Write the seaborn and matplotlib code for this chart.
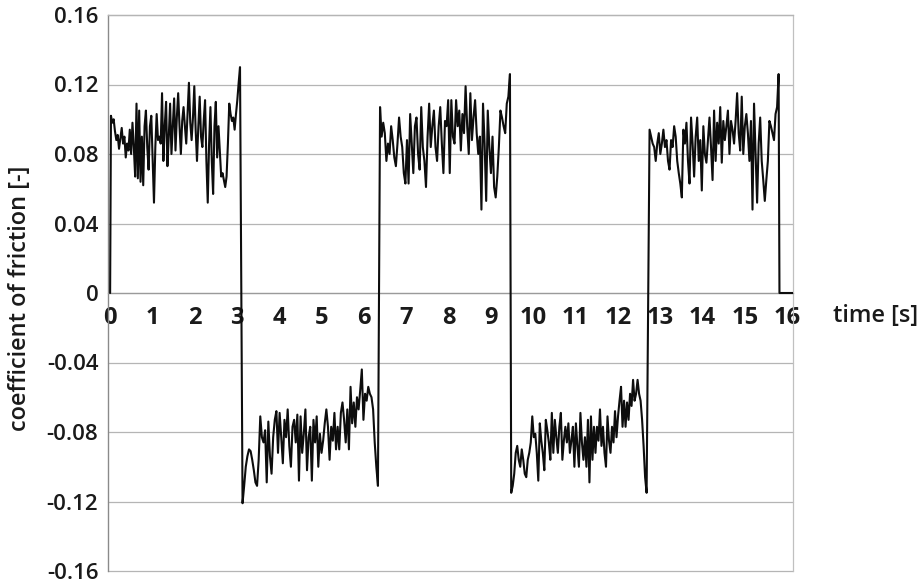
import numpy as np
import pandas as pd
import matplotlib
matplotlib.use("Agg")
import matplotlib.pyplot as plt
import seaborn as sns

# ---- data (friction coefficient, values in units of 1e-3) ----
start_time = [0.0]
start_value = [0]

seg1_range = (0.02, 3.07)
seg1 = [102, 98, 100, 93, 88, 91, 83, 89, 95, 86, 90, 78, 86, 82, 94, 80, 98, 84, 67, 109,
        66, 105, 64, 90, 62, 96, 105, 84, 71, 96, 102, 76, 52, 84, 103, 88, 90, 86, 115, 76,
        96, 110, 73, 90, 109, 80, 96, 112, 82, 101, 115, 96, 80, 99, 107, 96, 86, 103, 121, 98,
        88, 101, 119, 94, 76, 96, 113, 90, 84, 99, 111, 76, 52, 86, 107, 76, 57, 96, 110, 78,
        96, 82, 67, 69, 65, 61, 67, 86, 109, 103, 99, 101, 94, 103, 111, 121, 130]

seg2_range = (3.13, 6.33)
seg2 = [-121, -111, -100, -94, -90, -91, -96, -102, -109, -111, -96, -71, -83, -86, -79, -109,
        -74, -94, -104, -83, -73, -68, -92, -69, -83, -98, -73, -83, -67, -88, -100, -77, -73,
        -86, -70, -108, -71, -92, -81, -67, -102, -83, -77, -108, -73, -86, -71, -100, -81, -92,
        -85, -75, -67, -77, -96, -77, -85, -69, -90, -77, -90, -69, -63, -73, -86, -67, -90,
        -54, -75, -63, -77, -60, -67, -56, -44, -73, -58, -62, -54, -58, -60, -67, -86, -100, -111]

seg3_range = (6.38, 9.45)
seg3 = [107, 90, 98, 92, 76, 86, 80, 96, 88, 78, 73, 86, 101, 90, 84, 69, 63, 88, 63, 103,
        86, 69, 96, 101, 80, 71, 107, 84, 76, 61, 90, 109, 84, 96, 105, 84, 76, 96, 107, 86,
        69, 99, 96, 111, 69, 111, 90, 86, 111, 96, 105, 82, 103, 92, 119, 96, 80, 115, 88, 101,
        111, 92, 80, 90, 48, 109, 86, 53, 105, 84, 69, 90, 61, 55, 67, 84, 105, 101, 96, 92,
        109, 113, 126]

seg4_range = (9.48, 12.68)
seg4 = [-115, -111, -104, -92, -88, -96, -100, -90, -96, -104, -106, -96, -92, -86, -71, -83,
        -81, -92, -108, -75, -85, -92, -102, -73, -79, -86, -96, -69, -92, -73, -83, -92, -77,
        -69, -96, -85, -77, -86, -75, -92, -85, -77, -100, -75, -88, -100, -69, -86, -96, -83,
        -100, -73, -109, -71, -96, -77, -92, -77, -85, -67, -88, -77, -92, -100, -71, -85, -92,
        -77, -86, -68, -83, -71, -62, -54, -77, -62, -77, -63, -73, -58, -65, -50, -62, -58,
        -50, -58, -62, -73, -88, -106, -115]

seg5_range = (12.75, 15.80)
seg5 = [94, 90, 86, 84, 76, 86, 92, 80, 86, 94, 84, 88, 76, 71, 88, 84, 96, 90, 76, 69,
        63, 55, 94, 86, 98, 76, 63, 101, 86, 67, 90, 101, 76, 88, 59, 96, 80, 75, 88, 101,
        84, 65, 105, 76, 98, 86, 107, 75, 99, 88, 96, 105, 80, 99, 94, 86, 99, 115, 92, 82,
        113, 80, 96, 103, 92, 76, 99, 48, 109, 80, 52, 86, 101, 76, 65, 53, 65, 76, 99, 96,
        92, 88, 103, 107, 126]

end_time = [15.82, 16.14]
end_value = [0, 0]

y_ticks = [0.16, 0.12, 0.08, 0.04, 0.0, -0.04, -0.08, -0.12, -0.16]
x_ticks = list(range(0, 17))
x_label = "time [s]"
y_label = "coefficient of friction [-]"

# ---- assemble ----
times = list(start_time)
vals = list(start_value)
for rng, seg in [(seg1_range, seg1), (seg2_range, seg2), (seg3_range, seg3),
                 (seg4_range, seg4), (seg5_range, seg5)]:
    times.extend(np.linspace(rng[0], rng[1], len(seg)))
    vals.extend(seg)
times.extend(end_time)
vals.extend(end_value)
df = pd.DataFrame({"t": times, "mu": np.array(vals) / 1000.0})

sns.set_style("white")
plt.rcParams["font.family"] = ["Open Sans", "DejaVu Sans"]

fig = plt.figure(figsize=(9.2, 5.83), dpi=100)
ax = fig.add_axes([108 / 920, 12 / 583, 685 / 920, 556 / 583])

for yv in y_ticks:
    ax.axhline(yv, color="#b5b5b5", lw=0.9, zorder=0, clip_on=False)

sns.lineplot(data=df, x="t", y="mu", ax=ax, color="#0d0d0d", lw=1.5,
             sort=False, estimator=None, zorder=3)

ax.set_xlim(-0.05, 16.14)
ax.set_ylim(-0.16, 0.16)

ax.spines["bottom"].set_position(("data", 0))
ax.spines["bottom"].set_color("#9a9a9a")
ax.spines["bottom"].set_linewidth(0.9)
ax.spines["left"].set_color("#8a8a8a")
ax.spines["left"].set_linewidth(1.0)
ax.spines["top"].set_color("#b5b5b5")
ax.spines["top"].set_linewidth(0.9)
ax.spines["right"].set_color("#c0c0c0")
ax.spines["right"].set_linewidth(0.9)

ax.set_yticks(y_ticks)
ax.set_yticklabels(["0" if abs(v) < 1e-9 else f"{v:.2f}" for v in y_ticks])
ax.set_xticks(x_ticks)
ax.set_xticklabels([str(v) for v in x_ticks])
ax.tick_params(axis="y", length=0, pad=7, labelsize=16, labelcolor="#1a1a1a")
ax.tick_params(axis="x", length=0, pad=9, labelsize=17, labelcolor="#1a1a1a")
for lab in ax.get_yticklabels():
    lab.set_fontweight("semibold")
for lab in ax.get_xticklabels():
    lab.set_fontweight("bold")

ax.set_xlabel(x_label, fontsize=17, fontweight="semibold", color="#1a1a1a")
ax.xaxis.set_label_coords(1.120, 0.458)
ax.xaxis.label.set_va("center")
ax.set_ylabel(y_label, fontsize=17, fontweight="semibold", color="#1a1a1a")
ax.yaxis.label.set_va("center")
ax.yaxis.set_label_coords(-0.128, 0.491)

fig.savefig("out.png", dpi=100)
